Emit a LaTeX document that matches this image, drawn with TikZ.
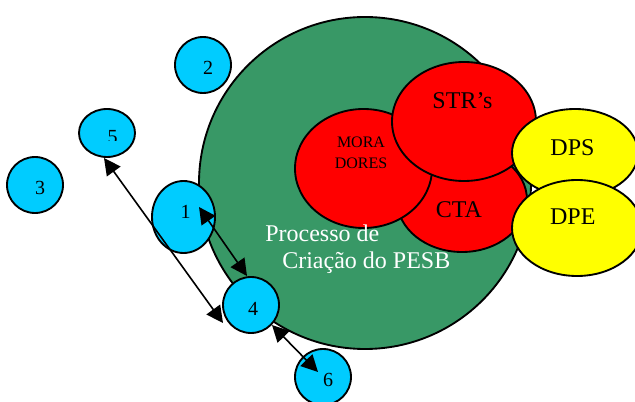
\documentclass[tikz,border=0pt]{standalone}
\usepackage{fontspec}
\setmainfont{Liberation Serif}
\usetikzlibrary{arrows.meta,shapes.geometric}
\definecolor{pgreen}{RGB}{56,152,102}
\definecolor{pblue}{RGB}{0,204,255}
\definecolor{pred}{RGB}{255,0,0}
\definecolor{pyellow}{RGB}{255,255,0}
\begin{document}
\begin{tikzpicture}[x=0.75pt,y=-0.75pt,
  blob/.style={ellipse,draw=black,line width=1.4pt,inner sep=0pt,outer sep=0pt},
  sz/.style 2 args={minimum width=#1*0.75pt,minimum height=#2*0.75pt},
  greenblob/.style={blob,fill=pgreen},
  redblob/.style={blob,fill=pred},
  yellowblob/.style={blob,fill=pyellow},
  blueblob/.style={blob,fill=pblue},
  num/.style={font=\fontsize{15}{18}\selectfont,inner sep=0pt},
  big/.style={font=\fontsize{18}{21}\selectfont,inner sep=0pt},
  small/.style={font=\fontsize{12}{14}\selectfont,inner sep=0pt},
  white/.style={font=\fontsize{18}{21}\selectfont,text=white,inner sep=0pt},
  tip/.style={Triangle[length=12.5pt,width=12.5pt]},
  dbl/.style={line width=1.2pt,{Triangle[length=12.5pt,width=12.5pt]}-{Triangle[length=12.5pt,width=12.5pt]}}]
\useasboundingbox (0,0) rectangle (635,402);
% big process circle
\node[greenblob,sz={332}{332}] (proc) at (365,183) {};
% red actors
\node[redblob,sz={130}{104}] (cta) at (462,200) {};
\node[redblob,sz={137}{119}] (mor) at (363.5,168.5) {};
\node[redblob,sz={144}{119}] (str) at (464,121.5) {};
% yellow actors
\node[yellowblob,sz={126}{88}] (dps) at (575,153) {};
\node[yellowblob,sz={130}{96}] (dpe) at (577,228) {};
% labels of the red and yellow actors
\node[big] (strt) at (462.5,100.5) {STR’s};
\node[big] (ctat) at (459,209.5) {CTA};
\node[small,align=center] (mort) at (361,153) {MORA\\[1.5pt]DORES};
\node[big] (dpst) at (572.5,147.5) {DPS};
\node[big] (dpet) at (572.8,217) {DPE};
% process text
\node[white,anchor=base west] (pt1) at (265,241.5) {Processo de};
\node[white,anchor=base west] (pt2) at (282,268.5) {Criação do PESB};
% blue circles
\node[blueblob,sz={56}{56}] (c2) at (203,65) {};
\node[blueblob,sz={56}{48}] (c5) at (107,133) {};
\node[blueblob,sz={56}{56}] (c3) at (35,185) {};
\node[blueblob,sz={63}{72}] (c1) at (183.5,217) {};
\node[blueblob,sz={56}{56}] (c4) at (251,305) {};
\node[blueblob,sz={56}{56}] (c6) at (323,377) {};
% numbers
\node[num] (n2) at (208,68) {2};
\node[num] (n3) at (40,187.5) {3};
\node[num] (n1) at (185.5,212) {1};
\node[num] (n4) at (253,308.5) {4};
\node[num] (n6) at (328,380) {6};
\begin{scope}
  \clip (90,120) rectangle (130,140.5);
  \node[num] (n5) at (112.5,137) {5};
\end{scope}
% arrow end points
\coordinate (a5) at (104,158);
\coordinate (a5e) at (223,323);
\coordinate (a1) at (199,207);
\coordinate (a4) at (247,276);
\coordinate (b4) at (272,325);
\coordinate (b6) at (318,372);
\draw[dbl] (a5) -- (a5e);
\draw[dbl] (a1) -- (a4);
\draw[dbl] (b4) -- (b6);
\end{tikzpicture}
\end{document}
